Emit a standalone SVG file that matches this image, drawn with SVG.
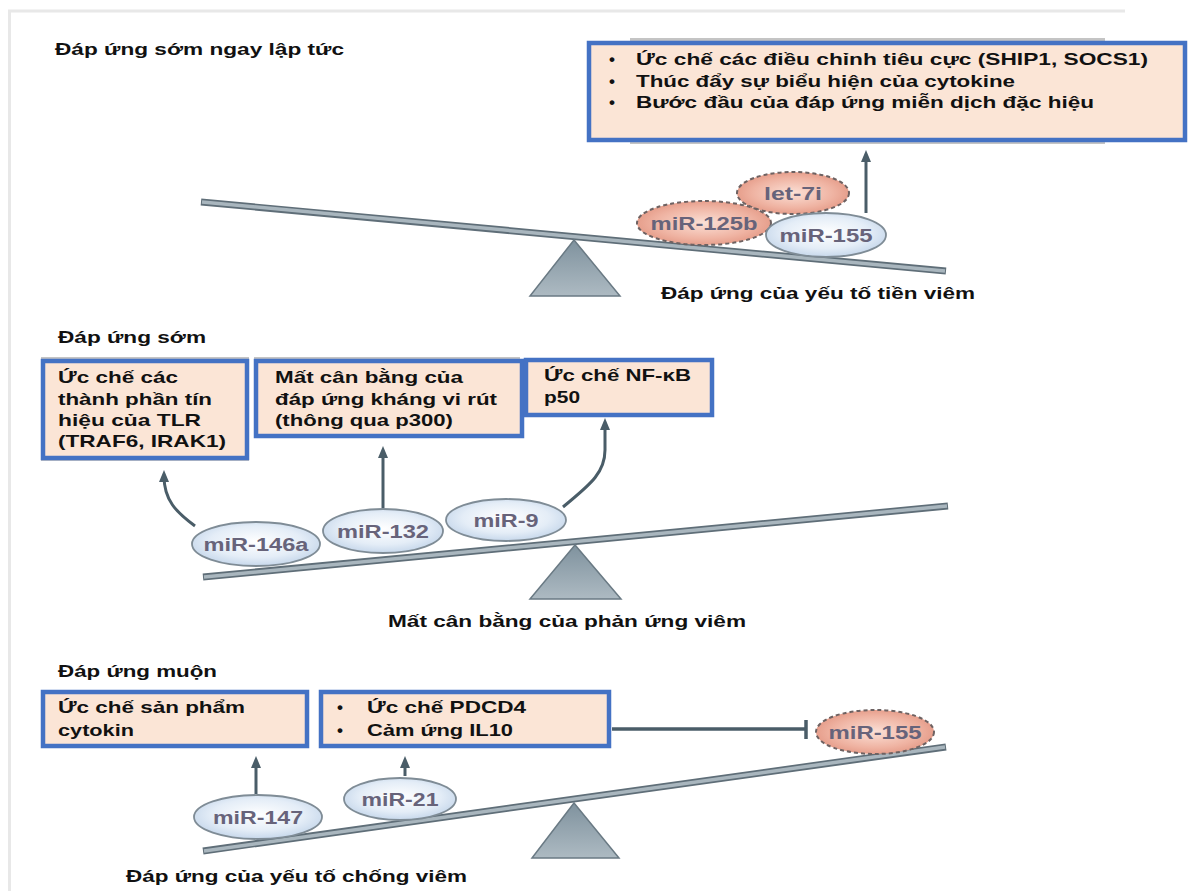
<svg xmlns="http://www.w3.org/2000/svg" width="1188" height="891" viewBox="0 0 1188 891">
<style>
.t{font-family:"Liberation Sans",Arial,sans-serif;font-weight:bold;font-size:17px;fill:#111}
.m{font-family:"Liberation Sans",Arial,sans-serif;font-weight:bold;font-size:18px;fill:#67637a}
.box{fill:#fbe5d6;stroke:#4472c4;stroke-width:4.5}
.sh{fill:#c4c4c4}
.beamO{stroke:#5f6e78;stroke-width:7;stroke-linecap:butt}
.beamI{stroke:#a9b6be;stroke-width:3.5;stroke-linecap:butt}
.tri{fill:url(#tg);stroke:#6a7a84;stroke-width:1.5}
.blue{fill:url(#bg);stroke:#7f8c96;stroke-width:1.8}
.red{fill:url(#rg);stroke:#6e6262;stroke-width:2;stroke-dasharray:4 3}
.arr{fill:none;stroke:#4a5d68;stroke-width:3;marker-end:url(#ah)}
.frame{stroke:#e8e8e8;stroke-width:3}
</style>
<defs>
<linearGradient id="tg" x1="0" y1="0" x2="0" y2="1">
<stop offset="0" stop-color="#7f929e"/><stop offset="1" stop-color="#adbac2"/>
</linearGradient>
<radialGradient id="bg" cx="0.5" cy="0.45" r="0.6">
<stop offset="0" stop-color="#ffffff"/><stop offset="0.6" stop-color="#e4edf7"/><stop offset="1" stop-color="#bfd2e8"/>
</radialGradient>
<radialGradient id="rg" cx="0.5" cy="0.5" r="0.6">
<stop offset="0" stop-color="#fbe0d6"/><stop offset="0.6" stop-color="#efb3a2"/><stop offset="1" stop-color="#e0907c"/>
</radialGradient>
<marker id="ah" markerUnits="userSpaceOnUse" markerWidth="12" markerHeight="12" viewBox="0 0 12 12" refX="6" refY="6" orient="auto">
<path d="M0,1 L12,6 L0,11 Z" fill="#4a5d68"/>
</marker>
</defs>
<rect width="1188" height="891" fill="#ffffff"/>
<g id="frame">
<line class="frame" x1="8" y1="11" x2="1125" y2="11"/>
<line class="frame" x1="9.5" y1="10" x2="9.5" y2="891"/>
</g>

<!-- Section 1 -->
<text id="title1" class="t" x="55" y="55" textLength="289" lengthAdjust="spacingAndGlyphs">Đáp ứng sớm ngay lập tức</text>
<g id="seesaw1">
<line class="beamO" x1="201" y1="202" x2="946" y2="271"/>
<line class="beamI" x1="202" y1="202" x2="945" y2="271"/>
<polygon class="tri" points="574,240 530,296 620,296"/>
</g>
<g id="box1">
<rect class="sh" x="630" y="38" width="475" height="106"/>
<rect class="box" x="589" y="43" width="596" height="97"/>
<text class="t" x="609" y="65">•</text>
<text class="t" x="636" y="65" textLength="512" lengthAdjust="spacingAndGlyphs">Ức chế các điều chỉnh tiêu cực (SHIP1, SOCS1)</text>
<text class="t" x="609" y="87">•</text>
<text class="t" x="636" y="87" textLength="379" lengthAdjust="spacingAndGlyphs">Thúc đẩy sự biểu hiện của cytokine</text>
<text class="t" x="609" y="108">•</text>
<text class="t" x="636" y="108" textLength="458" lengthAdjust="spacingAndGlyphs">Bước đầu của đáp ứng miễn dịch đặc hiệu</text>
</g>
<g id="let7i">
<ellipse class="red" cx="793" cy="193" rx="56" ry="21"/>
<text class="m" x="793" y="200" text-anchor="middle" textLength="58" lengthAdjust="spacingAndGlyphs">let-7i</text>
</g>
<g id="miR125b">
<ellipse class="red" cx="704" cy="223" rx="67" ry="22"/>
<text class="m" x="704" y="230" text-anchor="middle" textLength="107" lengthAdjust="spacingAndGlyphs">miR-125b</text>
</g>
<g id="miR155a">
<ellipse class="blue" cx="826" cy="235" rx="60" ry="22"/>
<text class="m" x="826" y="242" text-anchor="middle" textLength="93" lengthAdjust="spacingAndGlyphs">miR-155</text>
</g>
<text id="label1" class="t" x="661" y="299" textLength="314" lengthAdjust="spacingAndGlyphs">Đáp ứng của yếu tố tiền viêm</text>

<!-- Section 2 -->
<text id="title2" class="t" x="58" y="343" textLength="148" lengthAdjust="spacingAndGlyphs">Đáp ứng sớm</text>
<g id="seesaw2">
<line class="beamO" x1="203" y1="577" x2="948" y2="506"/>
<line class="beamI" x1="204" y1="577" x2="947" y2="506"/>
<polygon class="tri" points="575,545 530,599 621,599"/>
</g>
<g id="boxA">
<rect class="sh" x="41" y="357" width="208" height="104"/>
<rect class="box" x="43" y="361" width="204" height="97"/>
<text class="t" x="58" y="383" textLength="120" lengthAdjust="spacingAndGlyphs">Ức chế các</text>
<text class="t" x="58" y="405" textLength="154" lengthAdjust="spacingAndGlyphs">thành phần tín</text>
<text class="t" x="58" y="426" textLength="143" lengthAdjust="spacingAndGlyphs">hiệu của TLR</text>
<text class="t" x="58" y="447" textLength="168" lengthAdjust="spacingAndGlyphs">(TRAF6, IRAK1)</text>
</g>
<g id="boxB">
<rect class="sh" x="254" y="357" width="266" height="81"/>
<rect class="box" x="256" y="361" width="266" height="75"/>
<text class="t" x="275" y="383" textLength="188" lengthAdjust="spacingAndGlyphs">Mất cân bằng của</text>
<text class="t" x="275" y="405" textLength="222" lengthAdjust="spacingAndGlyphs">đáp ứng kháng vi rút</text>
<text class="t" x="275" y="426" textLength="178" lengthAdjust="spacingAndGlyphs">(thông qua p300)</text>
</g>
<g id="boxC">
<rect class="box" x="526" y="360" width="186" height="55"/>
<text class="t" x="544" y="381" textLength="147" lengthAdjust="spacingAndGlyphs">Ức chế NF-κB</text>
<text class="t" x="544" y="403" textLength="36" lengthAdjust="spacingAndGlyphs">p50</text>
</g>
<g id="miR146a">
<ellipse class="blue" cx="256" cy="544" rx="64" ry="22"/>
<text class="m" x="256" y="551" text-anchor="middle" textLength="105" lengthAdjust="spacingAndGlyphs">miR-146a</text>
</g>
<g id="miR132">
<ellipse class="blue" cx="383" cy="531" rx="60" ry="22"/>
<text class="m" x="383" y="538" text-anchor="middle" textLength="92" lengthAdjust="spacingAndGlyphs">miR-132</text>
</g>
<g id="miR9">
<ellipse class="blue" cx="506" cy="520" rx="60" ry="21"/>
<text class="m" x="506" y="527" text-anchor="middle" textLength="65" lengthAdjust="spacingAndGlyphs">miR-9</text>
</g>
<text id="label2" class="t" x="388" y="627" textLength="358" lengthAdjust="spacingAndGlyphs">Mất cân bằng của phản ứng viêm</text>

<!-- Section 3 -->
<text id="title3" class="t" x="58" y="677" textLength="159" lengthAdjust="spacingAndGlyphs">Đáp ứng muộn</text>
<g id="seesaw3">
<line class="beamO" x1="203" y1="851" x2="946" y2="747"/>
<line class="beamI" x1="204" y1="851" x2="945" y2="747"/>
<polygon class="tri" points="574,803 532,858 619,858"/>
</g>
<g id="boxD">
<rect class="box" x="43" y="692" width="264" height="54"/>
<text class="t" x="58" y="713" textLength="187" lengthAdjust="spacingAndGlyphs">Ức chế sản phẩm</text>
<text class="t" x="58" y="736" textLength="76" lengthAdjust="spacingAndGlyphs">cytokin</text>
</g>
<g id="boxE">
<rect class="box" x="321" y="692" width="288" height="54"/>
<text class="t" x="337" y="713">•</text>
<text class="t" x="367" y="713" textLength="159" lengthAdjust="spacingAndGlyphs">Ức chế PDCD4</text>
<text class="t" x="337" y="736">•</text>
<text class="t" x="367" y="736" textLength="146" lengthAdjust="spacingAndGlyphs">Cảm ứng IL10</text>
</g>
<g id="miR155b">
<ellipse class="red" cx="875" cy="732" rx="59" ry="22"/>
<text class="m" x="875" y="739" text-anchor="middle" textLength="93" lengthAdjust="spacingAndGlyphs">miR-155</text>
</g>
<g id="miR147">
<ellipse class="blue" cx="258" cy="817" rx="64" ry="22"/>
<text class="m" x="258" y="824" text-anchor="middle" textLength="90" lengthAdjust="spacingAndGlyphs">miR-147</text>
</g>
<g id="miR21">
<ellipse class="blue" cx="400" cy="799" rx="56" ry="21"/>
<text class="m" x="400" y="806" text-anchor="middle" textLength="77" lengthAdjust="spacingAndGlyphs">miR-21</text>
</g>
<text id="label3" class="t" x="126" y="882" textLength="341" lengthAdjust="spacingAndGlyphs">Đáp ứng của yếu tố chống viêm</text>

<g id="connectors">
<path class="arr" d="M866,213 L866,156"/>
<path class="arr" d="M195,526 C176,512 164,500 164,476"/>
<path class="arr" d="M383,508 L383,452"/>
<path class="arr" d="M563,507 C588,486 605,474 605,450 L605,424"/>
<path class="arr" d="M256,794 L256,762"/>
<path class="arr" d="M405,776 L405,762"/>
<line x1="612" y1="729" x2="806" y2="729" stroke="#4a5d68" stroke-width="3.5"/>
<line x1="806" y1="720" x2="806" y2="739" stroke="#4a5d68" stroke-width="3.5"/>
</g>
</svg>
